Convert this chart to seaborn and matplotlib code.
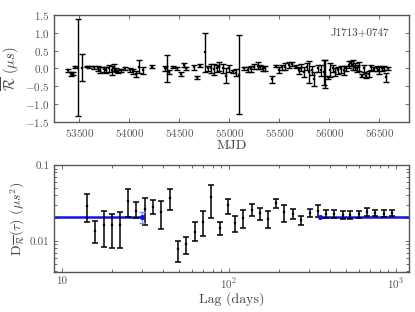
import matplotlib
matplotlib.use("Agg")
import matplotlib.pyplot as plt
import seaborn as sns
import numpy as np

# residuals (top panel)
mjd = [53383, 53417, 53440, 53460, 53490, 53523, 53573, 53600, 53643, 53690,
       53710, 53743, 53767, 53800, 53827, 53843, 53867, 53890, 53917, 53960,
       54010, 54033, 54067, 54100, 54140, 54227, 54357, 54377, 54400, 54433,
       54477, 54517, 54543, 54567, 54643, 54677, 54710, 54757, 54783, 54817,
       54843, 54873, 54900, 54933, 54967, 55000, 55033, 55067, 55093, 55143,
       55183, 55217, 55250, 55283, 55307, 55333, 55360, 55427, 55467, 55493,
       55527, 55560, 55593, 55627, 55667, 55693, 55717, 55750, 55773, 55800,
       55827, 55850, 55883, 55917, 55943, 55960, 55983, 56010, 56033, 56060,
       56083, 56117, 56143, 56167, 56193, 56217, 56233, 56257, 56277, 56300,
       56327, 56343, 56367, 56393, 56417, 56450, 56477, 56500, 56527, 56550,
       56567, 56583]
resid = [-0.05, -0.15, -0.15, 0.05, 0.04, 0.02, 0.05, 0.05, 0.03, 0.0,
         -0.05, -0.02, -0.05, 0.0, -0.05, 0.02, -0.05, -0.08, -0.05, 0.0,
         -0.05, -0.08, -0.15, 0.05, -0.05, 0.05, 0.0, 0.0, -0.1, 0.03,
         0.0, -0.15, 0.1, 0.0, 0.03, -0.25, 0.08, 0.45, 0.0, 0.0,
         -0.02, 0.0, 0.05, 0.0, -0.2, 0.0, -0.08, -0.12, -0.17, 0.0,
         -0.03, -0.02, 0.05, 0.08, 0.05, 0.0, 0.0, -0.3, 0.08, -0.05,
         0.03, 0.05, 0.1, 0.12, 0.05, -0.05, 0.02, -0.1, 0.05, -0.1,
         -0.05, -0.3, 0.0, -0.05, -0.1, -0.15, -0.25, -0.05, 0.0, -0.1,
         -0.05, -0.02, -0.05, 0.0, 0.1, 0.15, 0.1, 0.05, 0.0, 0.05,
         -0.2, 0.0, -0.2, -0.15, 0.03, -0.02, 0.0, -0.05, 0.0, 0.02,
         -0.25, 0.0]
resid_err = [0.04, 0.05, 0.04, 0.03, 1.36, 0.38, 0.02, 0.03, 0.05, 0.07,
             0.08, 0.07, 0.08, 0.1, 0.12, 0.1, 0.06, 0.05, 0.04, 0.05,
             0.06, 0.07, 0.08, 0.18, 0.1, 0.05, 0.06, 0.37, 0.05, 0.03,
             0.04, 0.06, 0.06, 0.05, 0.06, 0.05, 0.05, 0.55, 0.08, 0.12,
             0.15, 0.1, 0.12, 0.13, 0.2, 0.1, 0.05, 0.1, 1.1, 0.05,
             0.07, 0.08, 0.07, 0.1, 0.06, 0.07, 0.08, 0.1, 0.03, 0.08,
             0.08, 0.1, 0.08, 0.05, 0.05, 0.1, 0.1, 0.15, 0.1, 0.3,
             0.13, 0.2, 0.1, 0.15, 0.35, 0.4, 0.05, 0.2, 0.1, 0.12,
             0.1, 0.1, 0.12, 0.08, 0.1, 0.07, 0.15, 0.1, 0.1, 0.12,
             0.05, 0.1, 0.06, 0.08, 0.06, 0.06, 0.08, 0.1, 0.06, 0.05,
             0.12, 0.04]

# structure function (bottom panel)
lag = [14.1, 15.8, 17.8, 20.0, 22.4, 24.8, 27.9, 31.3, 35.1, 39.4,
       44.2, 49.5, 55.6, 62.3, 69.9, 78.4, 87.9, 98.6, 109, 122,
       137, 154, 171, 192, 214, 241, 271, 304, 341, 381,
       428, 479, 533, 597, 670, 751, 843, 946]
sf = [0.0287, 0.0136, 0.0163, 0.0160, 0.0163, 0.0334, 0.0247, 0.0262, 0.0276, 0.0241,
      0.0363, 0.0077, 0.0091, 0.0132, 0.0178, 0.0374, 0.0146, 0.0296, 0.0173, 0.0201,
      0.0254, 0.0230, 0.0191, 0.0311, 0.0237, 0.0225, 0.0188, 0.0234, 0.0247, 0.0225,
      0.0225, 0.0221, 0.0218, 0.0225, 0.0243, 0.0233, 0.0228, 0.0231]
sf_lo = [0.0175, 0.0093, 0.0083, 0.0081, 0.0081, 0.0208, 0.0199, 0.0164, 0.0227, 0.0144,
         0.0253, 0.0053, 0.0067, 0.0100, 0.0116, 0.0197, 0.0120, 0.0227, 0.0130, 0.0147,
         0.0212, 0.0190, 0.0149, 0.0268, 0.0175, 0.0194, 0.0164, 0.0203, 0.0203, 0.0199,
         0.0199, 0.0196, 0.0193, 0.0199, 0.0213, 0.0212, 0.0204, 0.0212]
sf_hi = [0.0415, 0.0180, 0.0250, 0.0225, 0.0243, 0.0478, 0.0322, 0.0370, 0.0347, 0.0333,
         0.0478, 0.0100, 0.0113, 0.0175, 0.0247, 0.0543, 0.0178, 0.0354, 0.0214, 0.0252,
         0.0303, 0.0274, 0.0250, 0.0358, 0.0297, 0.0260, 0.0214, 0.0264, 0.0297, 0.0254,
         0.0254, 0.0250, 0.0246, 0.0250, 0.0274, 0.0254, 0.0254, 0.0254]

# white-noise level and its break points
white_level = 0.0207
lag_break = [30.0, 349.0]
white_lo = [0.0173]
white_hi = [0.0237]

sns.set_style("ticks")
plt.rcParams['font.family'] = ['cmr10', 'DejaVu Serif']
plt.rcParams['mathtext.fontset'] = 'cm'
plt.rcParams['axes.formatter.use_mathtext'] = True
plt.rcParams['axes.edgecolor'] = '#555555'
plt.rcParams['xtick.color'] = '#555555'
plt.rcParams['ytick.color'] = '#555555'
plt.rcParams['xtick.direction'] = 'in'
plt.rcParams['ytick.direction'] = 'in'
plt.rcParams['axes.labelcolor'] = '#444444'

fig = plt.figure(figsize=(4.15, 3.12), dpi=100)
ax1 = fig.add_axes([0.131, 0.609, 0.855, 0.343])
ax2 = fig.add_axes([0.131, 0.129, 0.855, 0.342])

# top panel
ax1.errorbar(mjd, resid, yerr=resid_err, fmt='none', ecolor='black',
             elinewidth=1.0, capsize=2.2, capthick=1.0)
sns.scatterplot(x=mjd, y=resid, ax=ax1, color='black', marker='s', s=3,
                edgecolor='black', linewidth=0.2, zorder=3)
ax1.set_xlim(53250, 56800)
ax1.set_ylim(-1.5, 1.5)
ax1.set_yticks(np.arange(-1.5, 1.51, 0.5))
ax1.set_xticks(np.arange(53500, 56501, 500))
ax1.set_xlabel('MJD', fontsize=10, labelpad=1)
ax1.set_ylabel(r'$\overline{\mathcal{R}}$ ($\mu s$)', fontsize=10.5, labelpad=2)
ax1.text(0.86, 0.83, 'J1713+0747', transform=ax1.transAxes, ha='center',
         va='center', fontsize=8, color='#444444')

# bottom panel
sns.lineplot(x=[9, lag_break[0]], y=[white_level] * 2, ax=ax2, color='#1010ee', lw=1.8)
sns.lineplot(x=[lag_break[1], 1200], y=[white_level] * 2, ax=ax2, color='#1010ee', lw=1.8)
ax2.errorbar(lag, sf, yerr=[np.array(sf) - np.array(sf_lo), np.array(sf_hi) - np.array(sf)],
             fmt='none', ecolor='black', elinewidth=1.1, capsize=2.5, capthick=1.1)
sns.scatterplot(x=lag, y=sf, ax=ax2, color='black', marker='s', s=4,
                edgecolor='black', linewidth=0.2, zorder=3)
ax2.errorbar(lag_break[:1], [white_level], yerr=[[white_level - white_lo[0]], [white_hi[0] - white_level]],
             fmt='none', ecolor='#8090ff', elinewidth=1.0, capsize=2, capthick=1.0)
sns.scatterplot(x=lag_break, y=[white_level] * 2, ax=ax2, color='#1010ee', marker='o',
                s=12, edgecolor='#1010ee', zorder=4)
ax2.set_xscale('log')
ax2.set_yscale('log')
ax2.set_xlim(9, 1200)
ax2.set_ylim(0.0039, 0.1)
ax2.set_xticks([10, 100, 1000])
ax2.set_xticklabels(['10', r'$10^2$', r'$10^3$'])
ax2.set_yticks([0.01, 0.1])
ax2.set_yticklabels(['0.01', '0.1'])
ax2.set_xlabel('Lag (days)', fontsize=10, labelpad=1)
ax2.set_ylabel(r'D$_{\overline{\mathcal{R}}}(\tau)$ ($\mu s^2$)', fontsize=10, labelpad=2)

for ax in (ax1, ax2):
    ax.tick_params(which='both', top=True, right=True, labelsize=8, length=3, width=0.6)
    ax.tick_params(which='minor', length=2)
    for s in ax.spines.values():
        s.set_linewidth(1.0)

fig.savefig('out.png', dpi=100)
